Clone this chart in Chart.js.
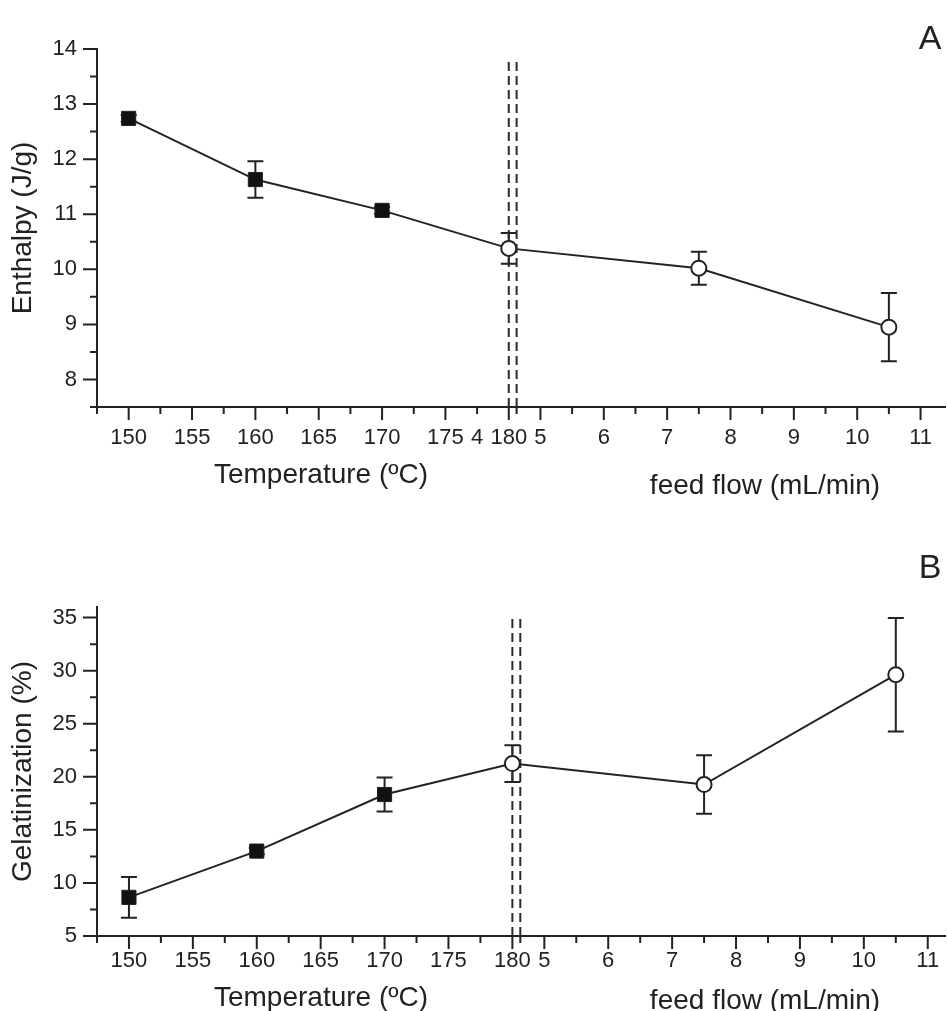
<!DOCTYPE html>
<html><head><meta charset="utf-8">
<script src="https://cdn.jsdelivr.net/npm/chart.js@4.4.1/dist/chart.umd.min.js"></script>
<style>
html,body{margin:0;padding:0;background:#fff;}
#wrapA{position:absolute;left:0;top:0;width:947px;height:530px;}
#wrapB{position:absolute;left:0;top:530px;width:947px;height:481px;}
canvas{display:block;}
</style></head><body>
<div id="wrapA"><canvas id="chartA" width="947" height="530"></canvas></div>
<div id="wrapB"><canvas id="chartB" width="947" height="481"></canvas></div>
<script>
// ---- data ----
const temperatures = [150, 160, 170, 180];          // ºC
const feedFlows = [7.5, 10.5];                        // mL/min
const enthalpyTemp = [12.74, 11.63, 11.07, 10.38];    // J/g
const enthalpyTempErr = [0.06, 0.33, 0.06, 0.28];
const enthalpyFlow = [10.02, 8.95];
const enthalpyFlowErr = [0.30, 0.62];
const gelatTemp = [8.64, 13.0, 18.33, 21.25];         // %
const gelatTempErr = [1.91, 0.30, 1.60, 1.73];
const gelatFlow = [19.27, 29.62];
const gelatFlowErr = [2.75, 5.35];
// tick labels
const temperatureTicks = [150, 155, 160, 165, 170, 175, 180];
const flowTicksA = [4, 5, 6, 7, 8, 9, 10, 11];
const flowTicksB = [5, 6, 7, 8, 9, 10, 11];
const enthalpyTicks = [8, 9, 10, 11, 12, 13, 14];
const gelatTicks = [5, 10, 15, 20, 25, 30, 35];
// axis break positions (shared axis units)
const breakPositions = [180, 180.62];

// shared x axis: temperature in ºC; feed flow 4 mL/min sits at 177.5, 5 units per mL/min
function flowToAxis(f) { return 177.5 + 5 * (f - 4); }

const FONT = "'Liberation Sans', Arial, Helvetica, sans-serif";
const INK = '#222';

function near(a, b) { return Math.abs(a - b) < 1e-6; }

function makePanel(cfg) {
  const pts = [];
  const errs = [];
  const styles = [], radii = [], fills = [], bws = [];
  temperatures.forEach((t, i) => {
    pts.push({x: t, y: cfg.tempVals[i]});
    errs.push(cfg.tempErr[i]);
    const open = (t === 180);
    styles.push(open ? 'circle' : 'rect');
    radii.push(open ? 7.5 : 10);
    fills.push(open ? '#fff' : '#111');
    bws.push(open ? 2 : 1);
  });
  feedFlows.forEach((f, i) => {
    pts.push({x: flowToAxis(f), y: cfg.flowVals[i]});
    errs.push(cfg.flowErr[i]);
    styles.push('circle'); radii.push(7.5); fills.push('#fff'); bws.push(2);
  });

  const datasets = [{
    data: pts, showLine: true, borderColor: INK, borderWidth: 2, tension: 0,
    pointStyle: styles, pointRadius: radii, pointHoverRadius: radii,
    pointBackgroundColor: fills, pointBorderColor: INK, pointBorderWidth: bws,
    order: 0, clip: false
  }];
  breakPositions.forEach(b => {
    datasets.push({
      data: [{x: b, y: cfg.yMin}, {x: b, y: cfg.breakTop}],
      showLine: true, borderColor: '#2a2a2a', borderWidth: 2, borderDash: [9, 5],
      pointRadius: 0, order: 1, clip: false
    });
  });

  const labelFor = (v) => {
    const u = Math.round(v * 1000) / 1000;
    if (temperatureTicks.some(t => near(t, u))) return String(u);
    for (const f of cfg.flowTicks) if (near(flowToAxis(f), u)) return String(f);
    return '';
  };
  const isMajorX = (u) => temperatureTicks.some(t => near(t, u)) ||
      cfg.flowTicks.some(f => f >= 5 && near(flowToAxis(f), u));

  const panelPlugin = {
    id: 'panel' + cfg.letter,
    beforeDatasetsDraw(chart) {
      const {ctx, scales: {x, y}} = chart;
      ctx.save();
      ctx.strokeStyle = INK; ctx.lineWidth = 2;
      pts.forEach((p, i) => {
        const px = x.getPixelForValue(p.x);
        const y1 = y.getPixelForValue(p.y + errs[i]);
        const y2 = y.getPixelForValue(p.y - errs[i]);
        ctx.beginPath();
        ctx.moveTo(px, y1); ctx.lineTo(px, y2);
        ctx.moveTo(px - 8, y1); ctx.lineTo(px + 8, y1);
        ctx.moveTo(px - 8, y2); ctx.lineTo(px + 8, y2);
        ctx.stroke();
      });
      ctx.restore();
    },
    afterDraw(chart) {
      const {ctx, scales: {x, y}} = chart;
      ctx.save();
      ctx.strokeStyle = INK; ctx.lineWidth = 2;
      const ax = x.top, ay = y.right;
      ctx.beginPath();
      x.ticks.forEach(t => {
        const u = Math.round(t.value * 1000) / 1000;
        const px = x.getPixelForValue(t.value);
        const len = isMajorX(u) ? 13 : 7;
        ctx.moveTo(px, ax); ctx.lineTo(px, ax + len);
      });
      const pb = x.getPixelForValue(breakPositions[1]);
      ctx.moveTo(pb, ax); ctx.lineTo(pb, ax + 7);
      y.ticks.forEach(t => {
        const py = y.getPixelForValue(t.value);
        const len = cfg.yTicks.some(v => near(v, t.value)) ? 14 : 7;
        ctx.moveTo(ay, py); ctx.lineTo(ay - len, py);
      });
      ctx.stroke();
      // x-axis titles
      ctx.fillStyle = INK;
      ctx.font = '28px ' + FONT;
      ctx.textAlign = 'center'; ctx.textBaseline = 'alphabetic';
      ctx.fillText('Temperature (ºC)', cfg.tempTitle[0], cfg.tempTitle[1]);
      ctx.fillText('feed flow (mL/min)', cfg.flowTitle[0], cfg.flowTitle[1]);
      // panel letter
      ctx.font = '34px ' + FONT;
      ctx.textBaseline = 'middle';
      ctx.fillText(cfg.letter, 930, cfg.letterY);
      ctx.restore();
    }
  };

  return new Chart(document.getElementById(cfg.canvas), {
    type: 'scatter',
    data: {datasets},
    options: {
      responsive: false, animation: false, devicePixelRatio: 1,
      layout: {autoPadding: false, padding: {top: cfg.padTop, right: 2, left: 0, bottom: 0}},
      plugins: {legend: {display: false}, tooltip: {enabled: false}},
      scales: {
        x: {
          type: 'linear', min: 147.5, max: cfg.xMax,
          afterFit(s) { s.height = cfg.xAxisH; s.paddingRight = 0; s.paddingLeft = 0; },
          grid: {display: false, drawTicks: false},
          border: {display: true, color: INK, width: 2},
          ticks: {
            stepSize: 2.5, autoSkip: false, maxRotation: 0, minRotation: 0,
            includeBounds: false, padding: cfg.xPad, color: INK,
            font: {family: FONT, size: 22},
            callback: (v) => labelFor(v)
          }
        },
        y: {
          type: 'linear', min: cfg.yMin, max: cfg.yMax,
          afterFit(s) { s.width = 97; s.paddingTop = 0; s.paddingBottom = 0; },
          grid: {display: false, drawTicks: false},
          border: {display: true, color: INK, width: 2},
          title: {display: true, text: cfg.yTitle, color: INK,
                  font: {family: FONT, size: 28}, padding: {top: 6, bottom: 0}},
          ticks: {
            stepSize: cfg.yStep, autoSkip: false, includeBounds: false,
            padding: 20, color: INK, font: {family: FONT, size: 22},
            callback: (v) => cfg.yTicks.some(t => near(t, v)) ? String(v) : ''
          }
        }
      }
    },
    plugins: [panelPlugin]
  });
}

makePanel({
  canvas: 'chartA', letter: 'A', letterY: 40,
  tempVals: enthalpyTemp, tempErr: enthalpyTempErr,
  flowVals: enthalpyFlow, flowErr: enthalpyFlowErr,
  flowTicks: flowTicksA, yTicks: enthalpyTicks,
  yMin: 7.5, yMax: 14, yStep: 0.5, breakTop: 13.82,
  yTitle: 'Enthalpy (J/g)',
  xMax: 214.43, padTop: 49, xAxisH: 123, xPad: 18,
  tempTitle: [321, 483], flowTitle: [765, 494]
});
makePanel({
  canvas: 'chartB', letter: 'B', letterY: 39,
  tempVals: gelatTemp, tempErr: gelatTempErr,
  flowVals: gelatFlow, flowErr: gelatFlowErr,
  flowTicks: flowTicksB, yTicks: gelatTicks,
  yMin: 5, yMax: 36, yStep: 2.5, breakTop: 35,
  yTitle: 'Gelatinization (%)',
  xMax: 213.85, padTop: 77, xAxisH: 75, xPad: 12,
  tempTitle: [321, 476], flowTitle: [765, 479]
});
</script>
</body></html>
